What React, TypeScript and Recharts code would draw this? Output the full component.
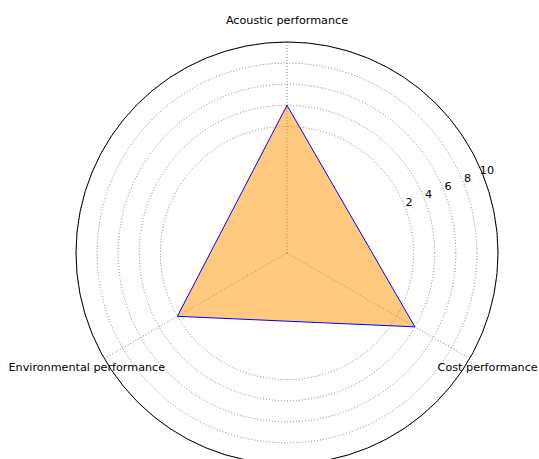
import React from 'react';
import { RadarChart, Radar, PolarGrid, PolarAngleAxis, PolarRadiusAxis } from 'recharts';

const categories = ['Acoustic performance', 'Cost performance', 'Environmental performance'];
const scores = [4, 4, 2];
const radiusTicks = [2, 4, 6, 8, 10];
const radiusDomain = [-10, 10];

const data = categories.map((c, i) => ({ subject: c, value: scores[i] }));

const CX = 287;
const CY = 253;
const R = 211;

const gridRadii = radiusTicks.map(
  (v) => (R * (v - radiusDomain[0])) / (radiusDomain[1] - radiusDomain[0])
);

const FONT = '"DejaVu Sans", sans-serif';

const angleOffsets: Record<string, [number, number]> = {
  'Acoustic performance': [0, -14],
  'Cost performance': [11, 5],
  'Environmental performance': [-10.5, 5],
};

const AngleTick = (props: any) => {
  const { x, y, payload } = props;
  const off = angleOffsets[payload.value] || [0, 0];
  return (
    <text
      x={x + off[0]}
      y={y + off[1]}
      textAnchor="middle"
      dominantBaseline="central"
      fontFamily={FONT}
      fontSize={11.2}
      fill="#000"
    >
      {payload.value}
    </text>
  );
};

const RadiusTick = (props: any) => {
  const { x, y, payload } = props;
  if (!radiusTicks.includes(payload.value)) return null;
  return (
    <text
      x={x + 5}
      y={y - 2}
      textAnchor="middle"
      dominantBaseline="central"
      fontFamily={FONT}
      fontSize={11.2}
      fill="#000"
    >
      {payload.value}
    </text>
  );
};

export default function App() {
  return (
    <div style={{ position: 'absolute', left: 0, top: 0, width: 539, height: 459, overflow: 'hidden', background: '#fff' }}>
      <RadarChart
        width={539}
        height={459}
        data={data}
        cx={CX}
        cy={CY}
        outerRadius={R}
        startAngle={90}
        endAngle={-270}
        margin={{ top: 0, right: 0, bottom: 0, left: 0 }}
      >
        <PolarGrid
          gridType="circle"
          polarRadius={gridRadii}
          stroke="#7f7f7f"
          strokeDasharray="1 2"
          strokeWidth={1}
        />
        <PolarAngleAxis
          dataKey="subject"
          tick={<AngleTick />}
          tickLine={false}
          axisLineType="circle"
          axisLine={{ stroke: '#000', strokeWidth: 1, strokeDasharray: '0' }}
        />
        <PolarRadiusAxis
          angle={22.5}
          domain={radiusDomain}
          ticks={radiusTicks as any}
          axisLine={false}
          tickLine={false}
          tick={<RadiusTick />}
        />
        <Radar
          dataKey="value"
          stroke="#0000ff"
          strokeWidth={1}
          fill="#FF9300"
          fillOpacity={0.5}
          isAnimationActive={false}
        />
      </RadarChart>
    </div>
  );
}
